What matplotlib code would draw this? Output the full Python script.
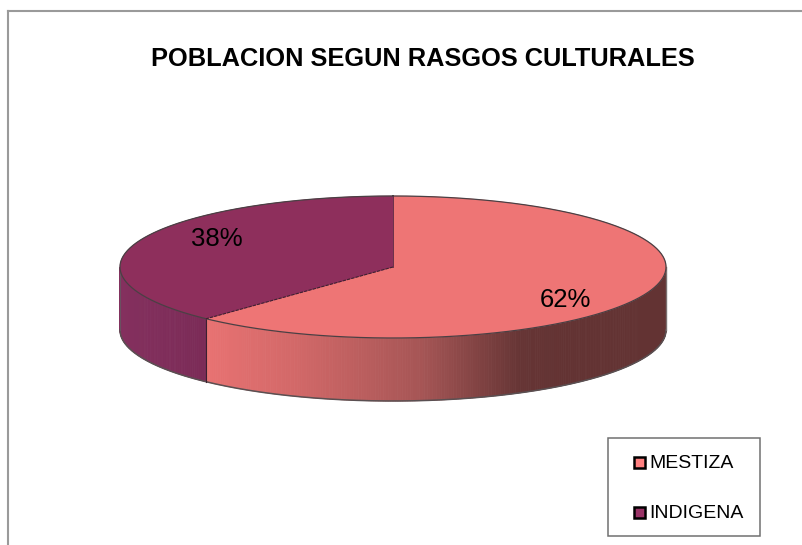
import numpy as np
import matplotlib
matplotlib.use("Agg")
import matplotlib.pyplot as plt
from matplotlib.patches import Polygon, Rectangle
from matplotlib.colors import LinearSegmentedColormap

categories = ["MESTIZA", "INDIGENA"]
values = [62, 38]
title = "POBLACION SEGUN RASGOS CULTURALES"

W, H = 803, 545
plt.rcParams['font.family'] = ['Liberation Sans', 'DejaVu Sans']
fig = plt.figure(figsize=(W / 100, H / 100), dpi=100)
ax = fig.add_axes([0, 0, 1, 1])
ax.set_xlim(0, W)
ax.set_ylim(H, 0)
ax.axis("off")

cx, cy, rx, ry, depth = 393, 267, 273, 71, 63
top_cols = ["#EE7575", "#8E2F5C"]

fr = np.array(values) / sum(values)
a0 = 0.0
a1 = fr[0] * 2 * np.pi
a2 = 2 * np.pi


def pt(a):
    return cx + rx * np.sin(a), cy - ry * np.cos(a)


side_map = LinearSegmentedColormap.from_list(
    "side", [(0, "#E87272"), (0.25, "#D26868"), (0.60, "#A55555"),
             (0.87, "#663535"), (1, "#633333")])

# side wall of first slice
angs = np.linspace(np.pi / 2, a1, 260)
for u, v in zip(angs[:-1], angs[1:]):
    x0, y0 = pt(u)
    x1, y1 = pt(v)
    t = np.clip(((x0 + x1) / 2 - 206) / (567 - 206), 0, 1)
    c = side_map(t)
    ax.add_patch(Polygon([(x0, y0), (x1, y1), (x1, y1 + depth), (x0, y0 + depth)],
                         closed=True, fc=c, ec=c, lw=0.6, zorder=2))

# side wall of second slice
angs = np.linspace(a1, 1.5 * np.pi, 80)
for u, v in zip(angs[:-1], angs[1:]):
    x0, y0 = pt(u)
    x1, y1 = pt(v)
    t = np.clip((x0 - 120) / 86, 0, 1)
    c = (np.array([0x84, 0x30, 0x5E]) * (1 - t) + np.array([0x7B, 0x2B, 0x57]) * t) / 255
    ax.add_patch(Polygon([(x0, y0), (x1, y1), (x1, y1 + depth), (x0, y0 + depth)],
                         closed=True, fc=c, ec=c, lw=0.6, zorder=2))

# lower rim and dividing lines
ab = np.linspace(np.pi / 2, 1.5 * np.pi, 300)
xb, yb = pt(ab)
ax.plot(xb, yb + depth, color="#5a5052", lw=1.1, zorder=3)
ax.plot([cx - rx, cx - rx], [cy, cy + depth], color="#6a5060", lw=0.8, zorder=3)
ax.plot([cx + rx, cx + rx], [cy, cy + depth], color="#7a7070", lw=1.0, zorder=3)
sx, sy = pt(a1)
ax.plot([sx, sx], [sy, sy + depth], color="#3a2030", lw=0.8, zorder=3)

# top faces
for start, end, col in [(a0, a1, top_cols[0]), (a1, a2, top_cols[1])]:
    a = np.linspace(start, end, 300)
    x, y = pt(a)
    ax.add_patch(Polygon(np.r_[[[cx, cy]], np.c_[x, y]], closed=True, fc=col,
                         ec=col, lw=0.4, zorder=4))
a = np.linspace(0, 2 * np.pi, 500)
x, y = pt(a)
ax.plot(x, y, color="#4a4044", lw=0.9, zorder=5)
ax.plot([cx, cx], [cy - ry, cy], color="#5a2a45", lw=0.6, zorder=5)
ax.plot([cx, sx], [cy, sy], color="#3f2030", lw=0.8, zorder=5, ls=(0, (3, 1)))

# percentage labels
ax.text(217, 239, f"{values[1]}%", fontsize=18.5, ha="center", va="center", color="black", zorder=6)
ax.text(565, 300, f"{values[0]}%", fontsize=18.5, ha="center", va="center", color="black", zorder=6)

# title
ax.text(423, 59, title, fontsize=18.3, fontweight="bold", ha="center", va="center", color="black")

# chart frame: top and left edges only
frame = "#9a9a9a"
ax.plot([8, 8], [H, 11], color=frame, lw=1.5, zorder=1)
ax.plot([8, W], [11, 11], color=frame, lw=1.5, zorder=1)

# legend
ax.add_patch(Rectangle((608, 438), 152, 98, fc="white", ec="#707070", lw=1.1, zorder=6))
leg_cols = ["#FF8080", "#993366"]
for lab, col, y in zip(categories, leg_cols, [462, 512]):
    ax.add_patch(Rectangle((634, y - 5.5), 11, 11, fc=col, ec="black", lw=1.8, zorder=7))
    ax.text(649, y + 1, lab, fontsize=14, ha="left", va="center", color="black", zorder=7)

fig.savefig("out.png", dpi=100, facecolor="white")
